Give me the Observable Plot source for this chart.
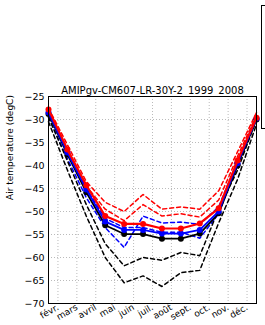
<!DOCTYPE html>
<html><head><meta charset="utf-8">
<script src="https://cdn.jsdelivr.net/npm/d3@7"></script>
<script src="https://cdn.jsdelivr.net/npm/@observablehq/plot@0.6"></script>
<style>
body{margin:0;background:#fff;font-family:"DejaVu Sans",sans-serif;}
#chart{position:relative;width:265px;height:325px;overflow:hidden}
#legend{position:absolute;left:261px;top:5px;width:30px;height:124px;border:1px solid #000;box-sizing:border-box;background:#fff}
</style></head><body><div id="chart"><div id="legend"></div></div>
<script>
const title = "AMIPgv-CM607-LR-30Y-2_1999_2008";
const yLabel = "Air temperature (degC)";
const monthIdx = [0,1,2,3,4,5,6,7,8,9,10,11];
const tickLabels = ["févr.","mars","avril","mai","juin","juil.","août","sept.","oct.","nov.","déc."];
const tickPos = [0.5,1.5,2.5,3.5,4.5,5.5,6.5,7.5,8.5,9.5,10.5];
const yTicks = [-70,-65,-60,-55,-50,-45,-40,-35,-30,-25];

const redSolid   = [-27.8,-36.5,-44.3,-51.0,-52.7,-52.7,-53.7,-53.7,-52.6,-49.3,-38.9,-29.6];
const blueSolid  = [-28.5,-37.2,-45.2,-52.2,-54.0,-54.0,-54.8,-54.8,-54.0,-50.0,-39.5,-29.8];
const blackSolid = [-28.8,-37.6,-45.8,-53.0,-54.9,-54.9,-55.9,-55.9,-54.8,-50.4,-40.0,-30.0];
const redDash1   = [-27.5,-35.5,-43.5,-48.0,-50.0,-46.3,-49.5,-49.0,-49.5,-45.5,-37.0,-28.5];
const redDash2   = [-28.0,-36.5,-44.5,-49.5,-52.0,-48.5,-51.0,-50.5,-51.2,-47.5,-38.0,-29.0];
const blueDash1  = [-28.3,-37.0,-45.0,-51.5,-53.5,-53.5,-54.5,-54.5,-55.8,-50.5,-39.5,-29.8];
const blueDash2  = [-29.5,-38.5,-47.0,-53.5,-57.8,-51.0,-52.5,-52.3,-52.8,-49.0,-39.0,-29.5];
const blackDash1 = [-29.5,-39.0,-48.5,-57.0,-61.8,-60.0,-60.6,-58.9,-59.6,-49.5,-41.0,-30.0];
const blackDash2 = [-30.5,-41.0,-51.0,-60.0,-65.5,-64.0,-66.3,-63.3,-62.8,-52.5,-43.0,-31.0];

const rows = arr => monthIdx.map((m,i)=>({m, v: arr[i]}));

const dashed = [[redDash1,"#ff0000"],[redDash2,"#ff0000"],[blueDash1,"#0000ff"],[blueDash2,"#0000ff"],[blackDash1,"#000000"],[blackDash2,"#000000"]];
const solid = [[blackSolid,"#000000",1.8],[blueSolid,"#0000ff",1.8],[redSolid,"#ff0000",2.2]];

const marks = [
  Plot.gridX(tickPos,{stroke:"#aaa",strokeOpacity:1,strokeDasharray:"1,2",strokeWidth:0.8}),
  Plot.gridY(yTicks,{stroke:"#aaa",strokeOpacity:1,strokeDasharray:"1,2",strokeWidth:0.8}),
];
for (const [arr,c] of dashed) marks.push(Plot.line(rows(arr),{x:"m",y:"v",stroke:c,strokeWidth:1.5,strokeDasharray:"4,3"}));
for (const [arr,c,w] of solid) {
  marks.push(Plot.line(rows(arr),{x:"m",y:"v",stroke:c,strokeWidth:w}));
  marks.push(Plot.dot(rows(arr),{x:"m",y:"v",fill:c,r:3}));
}
marks.push(
  Plot.frame({stroke:"#000",strokeWidth:1}),
  Plot.axisY(yTicks,{tickSize:0,tickPadding:4,fontSize:9.5,label:null,tickFormat:d=>"\u2212"+Math.abs(d)}),
  Plot.axisX(tickPos,{tickSize:0,tickPadding:3,fontSize:9,label:null,tickRotate:-30,textAnchor:"end",tickFormat:(d,i)=>tickLabels[i]}),
  Plot.text([title],{frameAnchor:"top",dy:-10,fontSize:10,fill:"#000"}),
  Plot.text([yLabel],{frameAnchor:"left",dx:-38,rotate:-90,fontSize:9,fill:"#000"})
);

const chart = Plot.plot({
  width:265,height:325,
  marginLeft:48,marginRight:9,marginTop:96,marginBottom:22,
  style:{fontFamily:"DejaVu Sans",background:"transparent",color:"#000"},
  x:{domain:[0,11],axis:null},
  y:{domain:[-70,-25],axis:null},
  marks
});
document.getElementById("chart").prepend(chart);
</script></body></html>
